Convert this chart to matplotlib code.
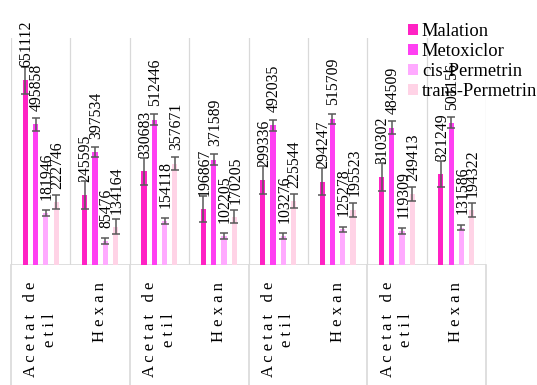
import numpy as np
import matplotlib as mpl
mpl.use("Agg")
import matplotlib.pyplot as plt
import matplotlib.transforms as mtransforms
from matplotlib.patches import Patch

mpl.rcParams["font.family"] = "serif"
mpl.rcParams["font.serif"] = ["Liberation Serif", "DejaVu Serif"]

# solvent per category (letter spaced like the reference)
solvents = ["A c e t a t   d e\ne t i l", "H e x a n"] * 4
series = ["Malation", "Metoxiclor", "cis-Permetrin", "trans-Permetrin"]

malation = [651112, 245595, 330683, 196867, 299336, 294247, 310302, 321249]
metoxiclor = [495858, 397534, 512446, 371589, 492035, 515709, 484509, 501156]
cis_permetrin = [181946, 85476, 154118, 102205, 103276, 125278, 119309, 131586]
trans_permetrin = [222746, 134164, 357671, 170205, 225544, 195523, 249413, 194322]

malation_err = [48000, 49000, 47000, 47000, 48000, 48000, 49000, 47000]
metoxiclor_err = [22000, 17700, 20000, 19000, 20600, 18000, 22000, 19500]
cis_err = [10600, 10600, 10600, 9000, 10600, 7700, 10600, 9500]
trans_err = [25000, 26500, 23500, 23500, 24700, 24700, 24700, 25400]

colors = ["#FF22C4", "#FF40F2", "#FFAAFF", "#FFD3E6"]
grid_color = "#D9D9D9"


def plot_chart():
    fig = plt.figure(figsize=(5.37, 3.85), dpi=100)
    # plot area: x 11..486 px, y 38..265 px
    ax = fig.add_axes([11 / 537, 120 / 385, 475 / 537, 227 / 385])

    values = [malation, metoxiclor, cis_permetrin, trans_permetrin]
    errors = [malation_err, metoxiclor_err, cis_err, trans_err]
    offsets = [-0.26, -0.087, 0.087, 0.26]
    n = len(solvents)
    x = np.arange(n) + 0.5

    for vals, errs, off, col in zip(values, errors, offsets, colors):
        ax.bar(x + off, vals, width=0.088, color=col, zorder=2)
        ax.errorbar(x + off, vals, yerr=errs, fmt="none", ecolor="#595959",
                    elinewidth=1.1, capsize=2.9, capthick=1.1, zorder=3)
        for xi, v in zip(x + off, vals):
            ax.annotate(str(v), xy=(xi, v), xytext=(0.8, 9.5),
                        textcoords="offset points", rotation=90,
                        ha="center", va="bottom", fontsize=11.3, zorder=4)

    ax.set_xlim(0, n)
    ax.set_ylim(0, 800000)
    for s in ax.spines.values():
        s.set_visible(False)
    ax.set_xticks([])
    ax.set_yticks([])

    # vertical gridlines between categories + axis line
    for b in range(n + 1):
        ax.axvline(b, color=grid_color, lw=0.9, zorder=1)
    ax.axhline(0, color=grid_color, lw=1.2, zorder=1)

    # multi level axis separators below the plot
    trans = mtransforms.blended_transform_factory(ax.transData, ax.transAxes)
    for b in range(0, n + 1, 2):
        ax.plot([b, b], [0, -0.54], color=grid_color, lw=1.2,
                transform=trans, clip_on=False)

    for xi, name in zip(x, solvents):
        ax.text(xi, -0.075, name, transform=trans, rotation=90, ha="center",
                va="top", multialignment="center", fontsize=12)

    handles = [Patch(facecolor=c, edgecolor="none") for c in colors]
    fig.legend(handles, series, loc="upper left",
               bbox_to_anchor=(408 / 537, 1 - 23 / 385), frameon=False,
               fontsize=13.3, borderpad=0, borderaxespad=0,
               handlelength=0.55, handleheight=0.55, handletextpad=0.2,
               labelspacing=0.17)

    fig.savefig("out.png", dpi=100)


def main():
    plot_chart()


if __name__ == "__main__":
    main()
